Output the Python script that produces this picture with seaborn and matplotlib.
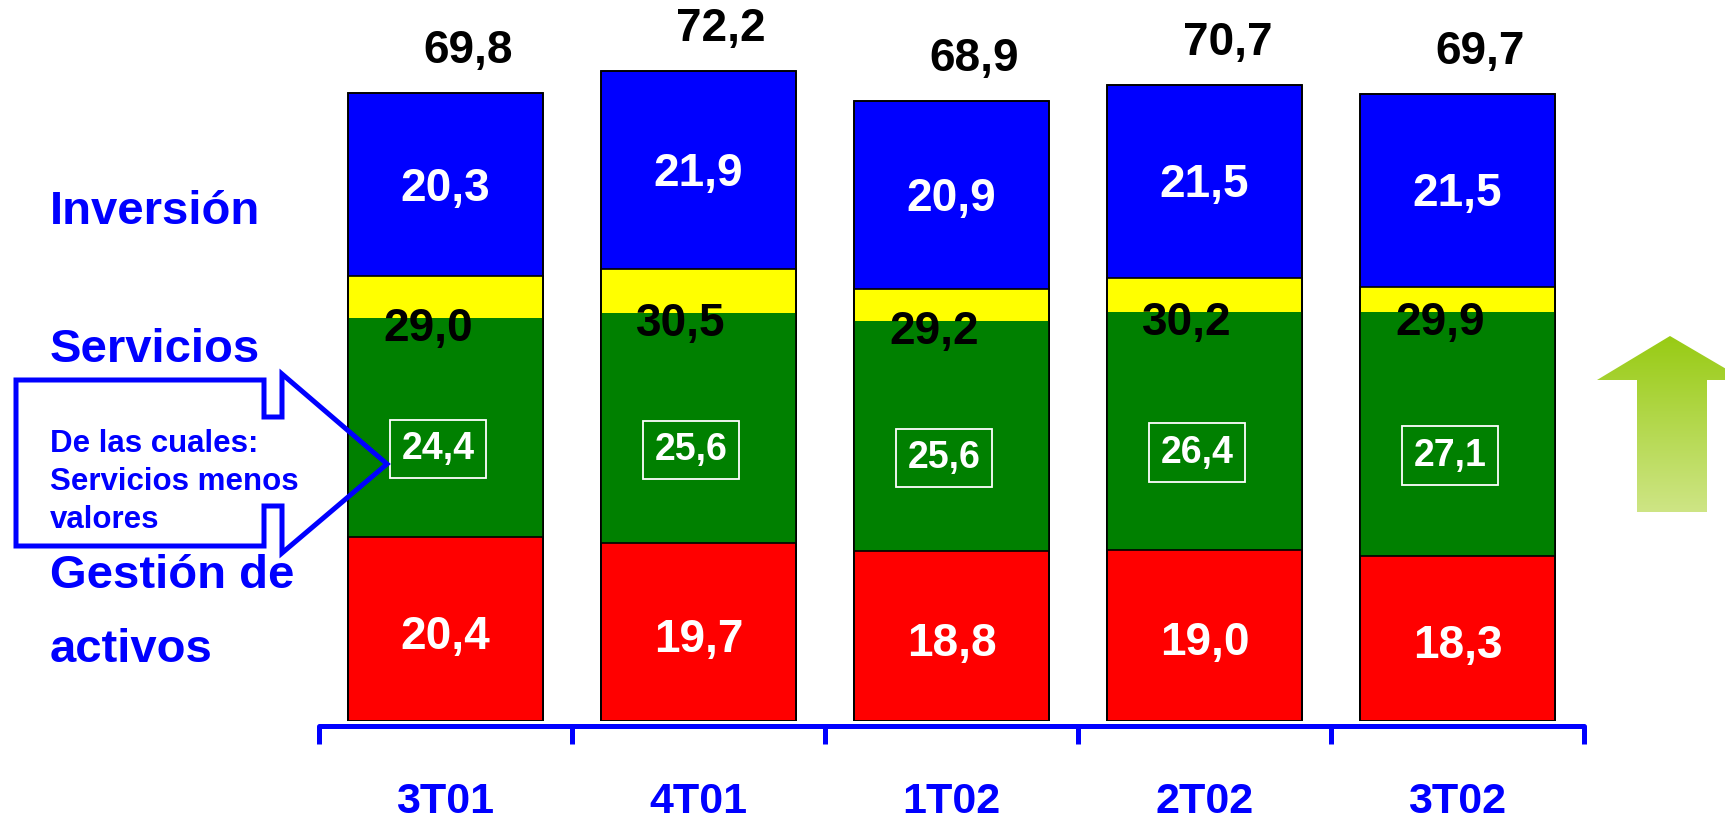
import numpy as np
import matplotlib
matplotlib.use("Agg")
import matplotlib.pyplot as plt
import seaborn as sns
from matplotlib.patches import Polygon
from matplotlib.colors import LinearSegmentedColormap

# ====================== datos ======================
quarters = ["3T01", "4T01", "1T02", "2T02", "3T02"]
gestion = [20.4, 19.7, 18.8, 19.0, 18.3]
servicios = [29.0, 30.5, 29.2, 30.2, 29.9]
serv_menos_valores = [24.4, 25.6, 25.6, 26.4, 27.1]
inversion = [20.3, 21.9, 20.9, 21.5, 21.5]
totales = [69.8, 72.2, 68.9, 70.7, 69.7]
row_labels = ["Inversión", "Servicios", "Gestión de", "activos"]

BLUE = "#0000FF"
YELLOW = "#FFFF00"
GREEN = "#008000"
RED = "#FF0000"

def fmt(v):
    return f"{v:.1f}".replace(".", ",")

sns.set_style("white")
plt.rcParams["font.family"] = ["Liberation Sans", "DejaVu Sans"]
plt.rcParams["font.weight"] = "bold"

W, H = 1725, 819
fig = plt.figure(figsize=(W / 100, H / 100), dpi=100)
ax = fig.add_axes([319 / W, 98.5 / H, 1265 / W, 720.5 / H])

g = np.array(gestion)
s = np.array(servicios)
sm = np.array(serv_menos_valores)
tot = np.array(totales)

# barras apiladas (cumulativas, la mayor primero)
common = dict(x=quarters, order=quarters, width=0.77, saturation=1, errorbar=None, ax=ax)
sns.barplot(y=tot, color=BLUE, edgecolor="black", linewidth=1.2, **common)
sns.barplot(y=g + s, color=YELLOW, edgecolor="black", linewidth=1.2, **common)
sns.barplot(y=g + sm, color=GREEN, linewidth=0, **common)
sns.barplot(y=g, color=RED, edgecolor="black", linewidth=1.2, **common)
sns.barplot(y=tot, color="black", fill=False, linewidth=1.2, **common)

ax.set_xlim(-0.5, 4.5)
ax.set_ylim(0, 720.5 / 8.99)
ax.set_xlabel("")
ax.set_ylabel("")
ax.set_yticks([])
for side in ["left", "top", "right"]:
    ax.spines[side].set_visible(False)
ax.spines["bottom"].set_position(("outward", 4))
ax.spines["bottom"].set_color(BLUE)
ax.spines["bottom"].set_linewidth(3.6)
ax.spines["bottom"].set_capstyle("round")
ax.set_xticks(np.arange(-0.5, 5, 1.0))
ax.set_xticklabels([])
ax.tick_params(axis="x", bottom=True, direction="out", length=13, width=3.6, color=BLUE)

txt = dict(ha="center", va="center", fontweight="bold", zorder=10, clip_on=False)
for i, q in enumerate(quarters):
    ax.text(i, g[i] / 2 - 0.9, fmt(gestion[i]), color="white", fontsize=33, **txt)
    ax.text(i - 0.07, g[i] + sm[i] - 1.2, fmt(servicios[i]), color="black", fontsize=33, **txt)
    ax.text(i - 0.03, g[i] + sm[i] / 2 - 2.4, fmt(serv_menos_valores[i]), color="white",
            fontsize=27, bbox=dict(boxstyle="square,pad=0.3", fc="none", ec="white", lw=1.3), **txt)
    ax.text(i, g[i] + s[i] + inversion[i] / 2 - 0.4, fmt(inversion[i]), color="white", fontsize=33, **txt)
    ax.text(i + 0.09, tot[i] + 4.7, fmt(totales[i]), color="black", fontsize=33, **txt)
    ax.text(i, -9.1, q, color=BLUE, fontsize=31, **txt)

# capa de decoraciones en pixeles
ov = fig.add_axes([0, 0, 1, 1])
ov.set_xlim(0, W)
ov.set_ylim(H, 0)
ov.axis("off")

lab = dict(color=BLUE, fontsize=34, fontweight="bold", va="center")
ov.text(50, 212, row_labels[0], **lab)
ov.text(50, 350, row_labels[1], **lab)
ov.text(50, 576, row_labels[2], **lab)
ov.text(50, 650, row_labels[3], **lab)

# flecha llamada azul
callout = [(16, 380), (264, 380), (264, 417), (282, 417), (282, 374), (387, 464),
           (282, 553), (282, 506), (264, 506), (264, 546), (16, 546)]
ov.add_patch(Polygon(callout, closed=True, fc="none", ec=BLUE, lw=3.6, joinstyle="miter"))
ov.text(50, 482, "De las cuales:\nServicios menos\nvalores", color=BLUE, fontsize=22.5,
        fontweight="bold", va="center", ha="left", linespacing=1.35)

# flecha verde con degradado
arrow = [(1670, 336), (1745, 380), (1707, 380), (1707, 512), (1637, 512), (1637, 380), (1597, 380)]
arrow_patch = Polygon(arrow, closed=True, fc="none", ec="none")
ov.add_patch(arrow_patch)
cmap = LinearSegmentedColormap.from_list("verde", ["#98CB14", "#CEE585"])
grad = np.linspace(0, 1, 256).reshape(-1, 1)
im = ov.imshow(grad, cmap=cmap, extent=[1590, 1750, 512, 336], aspect="auto", zorder=1)
im.set_clip_path(arrow_patch)
ov.set_xlim(0, W)
ov.set_ylim(H, 0)

fig.savefig("out.png", dpi=100)
